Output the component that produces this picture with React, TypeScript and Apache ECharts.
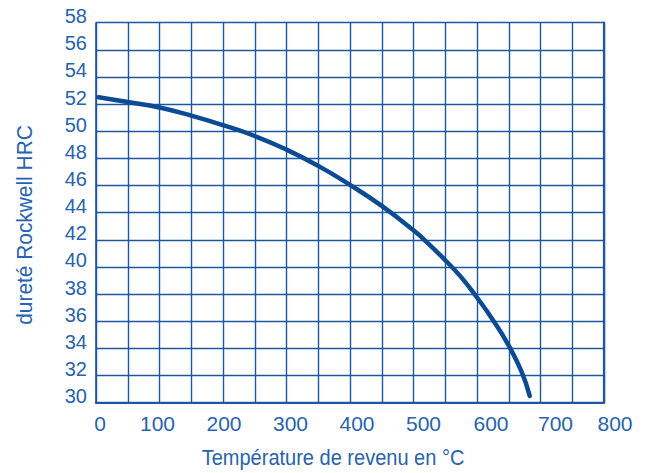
import React, { useEffect, useRef } from "react";
import * as echarts from "echarts";

const temperatures = [4, 50, 100, 150, 200, 250, 300, 350, 400, 450, 500, 525, 550, 575, 600, 625, 650, 670, 683];
const hardness = [52.5, 52.15, 51.75, 51.15, 50.45, 49.65, 48.65, 47.45, 46.05, 44.5, 42.7, 41.65, 40.5, 39.25, 37.75, 36.1, 34.2, 32.3, 30.5];
const xTickLabels = ["0", "100", "200", "300", "400", "500", "600", "700", "800"];
const xLabelShift = [4, -2, 1, 4, 7, 10, 14, 15, 11];
const yTitle = "dureté Rockwell HRC";
const xTitle = "Température de revenu en °C";

const GRID = "#1d57a2";
const LABEL = "#2763ae";
const CURVE = "#0b4b95";

export default function App() {
  const ref = useRef<HTMLDivElement>(null);
  useEffect(() => {
    document.body.style.margin = "0";
    const chart = echarts.init(ref.current!, null, { renderer: "svg" });
    const rich: Record<string, any> = {};
    xLabelShift.forEach((s, i) => {
      rich["s" + i] = {
        fontSize: 21,
        color: LABEL,
        fontFamily: "Liberation Sans, Arial, sans-serif",
        padding: s >= 0 ? [0, 0, 0, 2 * s] : [0, -2 * s, 0, 0],
      };
    });
    chart.setOption({
      animation: false,
      grid: { left: 96, top: 22.7, right: 48, bottom: 70.3, containLabel: false },
      xAxis: {
        type: "value",
        min: 0,
        max: 800,
        interval: 50,
        axisLine: { show: true, onZero: false, lineStyle: { color: GRID, width: 2 } },
        axisTick: { show: false },
        splitLine: { show: true, lineStyle: { color: GRID, width: 1.4 } },
        axisLabel: {
          margin: 10,
          fontSize: 21,
          color: LABEL,
          fontFamily: "Liberation Sans, Arial, sans-serif",
          formatter: (v: number) => {
            if (v % 100 !== 0) return "";
            const i = v / 100;
            return "{s" + i + "|" + xTickLabels[i] + "}";
          },
          rich,
        },
      },
      yAxis: [
        {
          type: "value",
          min: 30,
          max: 58,
          interval: 2,
          axisLine: { show: true, lineStyle: { color: GRID, width: 1.6 } },
          axisTick: { show: false },
          splitLine: { show: true, lineStyle: { color: GRID, width: 1.4 } },
          axisLabel: {
            margin: 9,
            fontSize: 20,
            color: LABEL,
            fontFamily: "Liberation Sans, Arial, sans-serif",
            verticalAlign: "bottom",
            lineHeight: 13,
          },
        },
        {
          type: "value",
          position: "right",
          min: 30,
          max: 58,
          interval: 2,
          axisLine: { show: true, lineStyle: { color: GRID, width: 2.2 } },
          axisTick: { show: false },
          axisLabel: { show: false },
          splitLine: { show: false },
        },
      ],
      graphic: [
        {
          type: "text",
          x: 333,
          y: 457,
          scaleX: 0.91,
          style: {
            text: xTitle,
            fill: LABEL,
            fontSize: 22,
            fontFamily: "Liberation Sans, Arial, sans-serif",
            align: "center",
            verticalAlign: "middle",
          },
        },
        {
          type: "text",
          x: 25,
          y: 225,
          rotation: Math.PI / 2,
          scaleX: 0.95,
          style: {
            text: yTitle,
            fill: LABEL,
            fontSize: 22,
            fontFamily: "Liberation Sans, Arial, sans-serif",
            align: "center",
            verticalAlign: "middle",
          },
        },
      ],
      series: [
        {
          type: "line",
          data: temperatures.map((t, i) => [t, hardness[i]]),
          smooth: 0.5,
          showSymbol: false,
          symbol: "none",
          lineStyle: { color: CURVE, width: 4.5, cap: "round" },
        },
      ],
    });
    return () => chart.dispose();
  }, []);
  return <div ref={ref} style={{ width: 652, height: 473 }} />;
}
